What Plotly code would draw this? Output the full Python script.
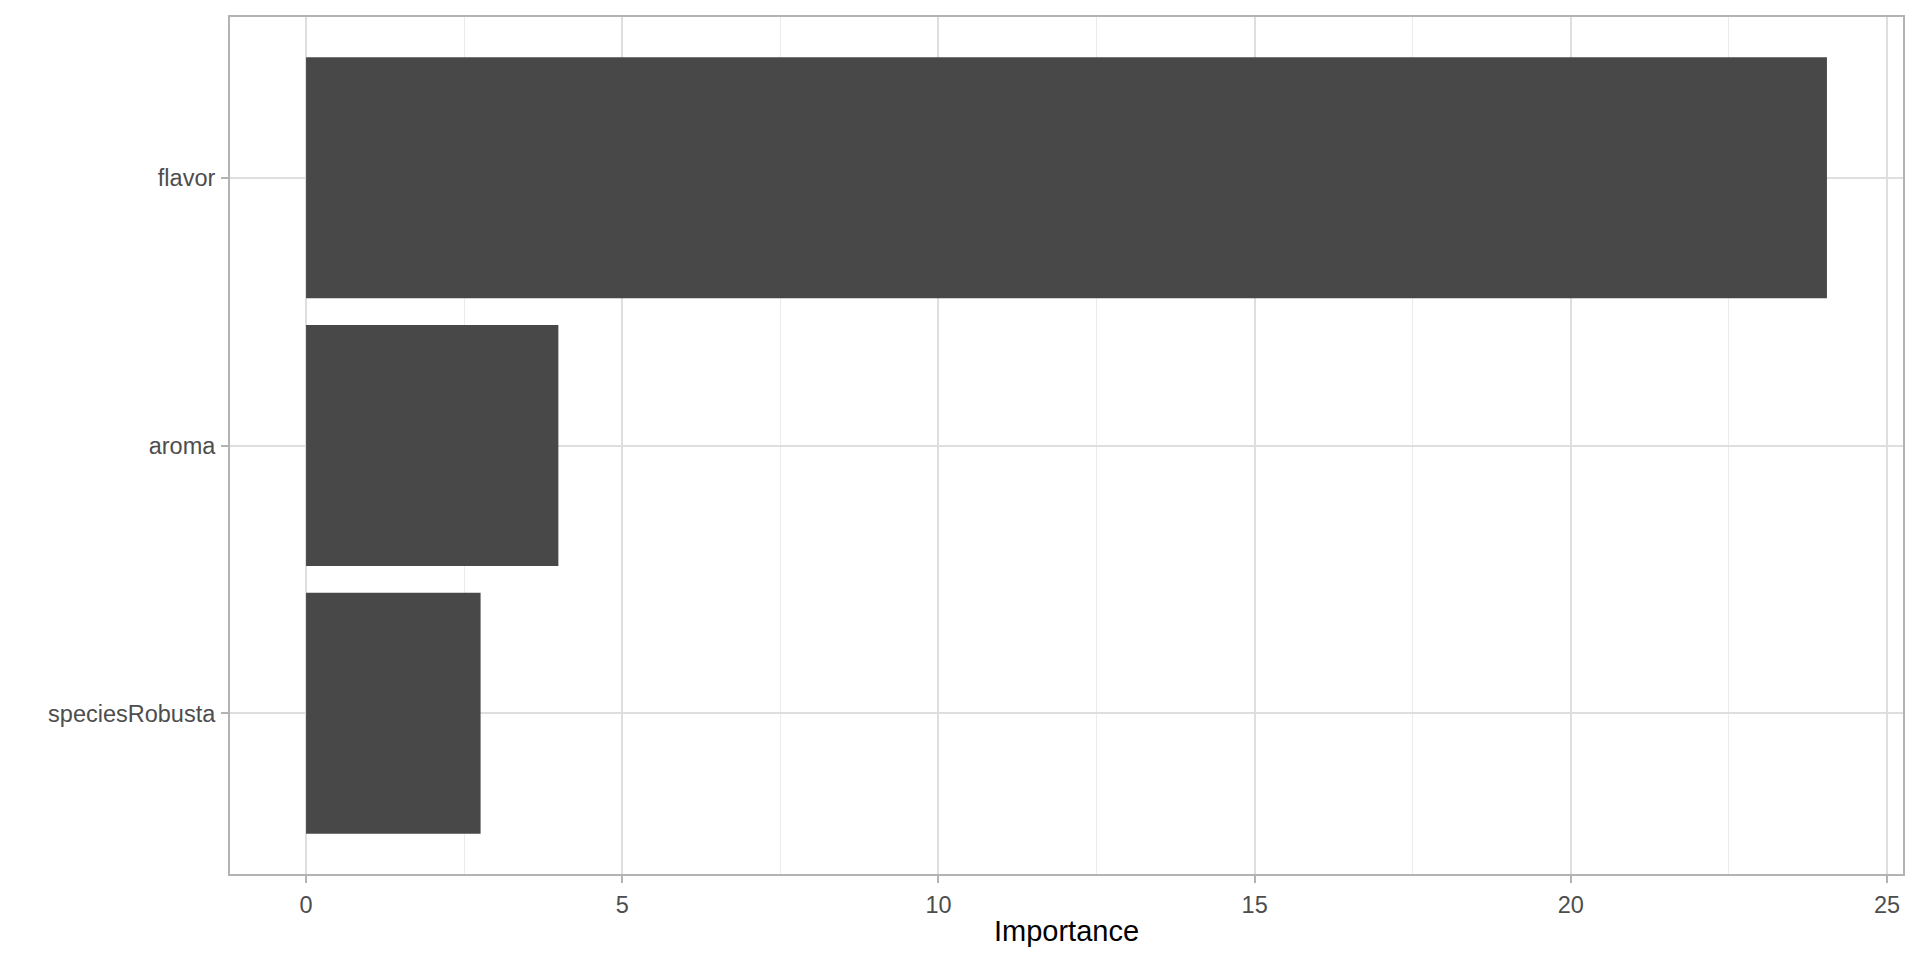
import plotly.graph_objects as go

features = ["speciesRobusta", "aroma", "flavor"]
importance = [2.76, 3.99, 24.05]
x_ticks = [0, 5, 10, 15, 20, 25]
x_minor_ticks = [2.5, 7.5, 12.5, 17.5, 22.5]

bar_color = "#484848"
grid_major = "#DEDEDE"
grid_minor = "#EBEBEB"
border = "#B3B3B3"
tick_text = "#4D4D4D"

fig = go.Figure(
    go.Bar(
        x=importance,
        y=features,
        orientation="h",
        marker=dict(color=bar_color, line=dict(width=0)),
        width=0.9,
    )
)

xmax = max(importance)
pad = 0.05 * xmax

# page body has an 8px default margin; size the figure to fit inside the window
fig.update_layout(
    width=1904,
    height=944,
    paper_bgcolor="white",
    plot_bgcolor="white",
    margin=dict(l=222, r=7, t=7, b=78, pad=0),
    showlegend=False,
    font=dict(family="Liberation Sans, Arial, sans-serif", color=tick_text),
    xaxis=dict(
        range=[-pad, xmax + pad],
        tickmode="array",
        tickvals=x_ticks,
        ticktext=[str(v) for v in x_ticks],
        tickfont=dict(size=23.5, color=tick_text),
        ticks="outside",
        ticklen=7,
        tickwidth=1.5,
        tickcolor=border,
        showgrid=True,
        gridcolor=grid_major,
        gridwidth=2,
        minor=dict(tickmode="array", tickvals=x_minor_ticks,
                   showgrid=True, gridcolor=grid_minor, gridwidth=1, ticks=""),
        zeroline=False,
        showline=True,
        linecolor=border,
        linewidth=2,
        mirror=True,
        title=dict(text="Importance", font=dict(size=29, color="black"), standoff=3),
        ticklabelstandoff=2,
    ),
    yaxis=dict(
        categoryorder="array",
        categoryarray=features,
        range=[-0.6, len(features) - 0.4],
        tickfont=dict(size=23.5, color=tick_text),
        ticks="outside",
        ticklen=7,
        tickwidth=1.5,
        tickcolor=border,
        showgrid=True,
        gridcolor=grid_major,
        gridwidth=2,
        zeroline=False,
        showline=True,
        linecolor=border,
        linewidth=2,
        mirror=True,
        ticklabelstandoff=1,
    ),
)

fig.write_html("out.html")
